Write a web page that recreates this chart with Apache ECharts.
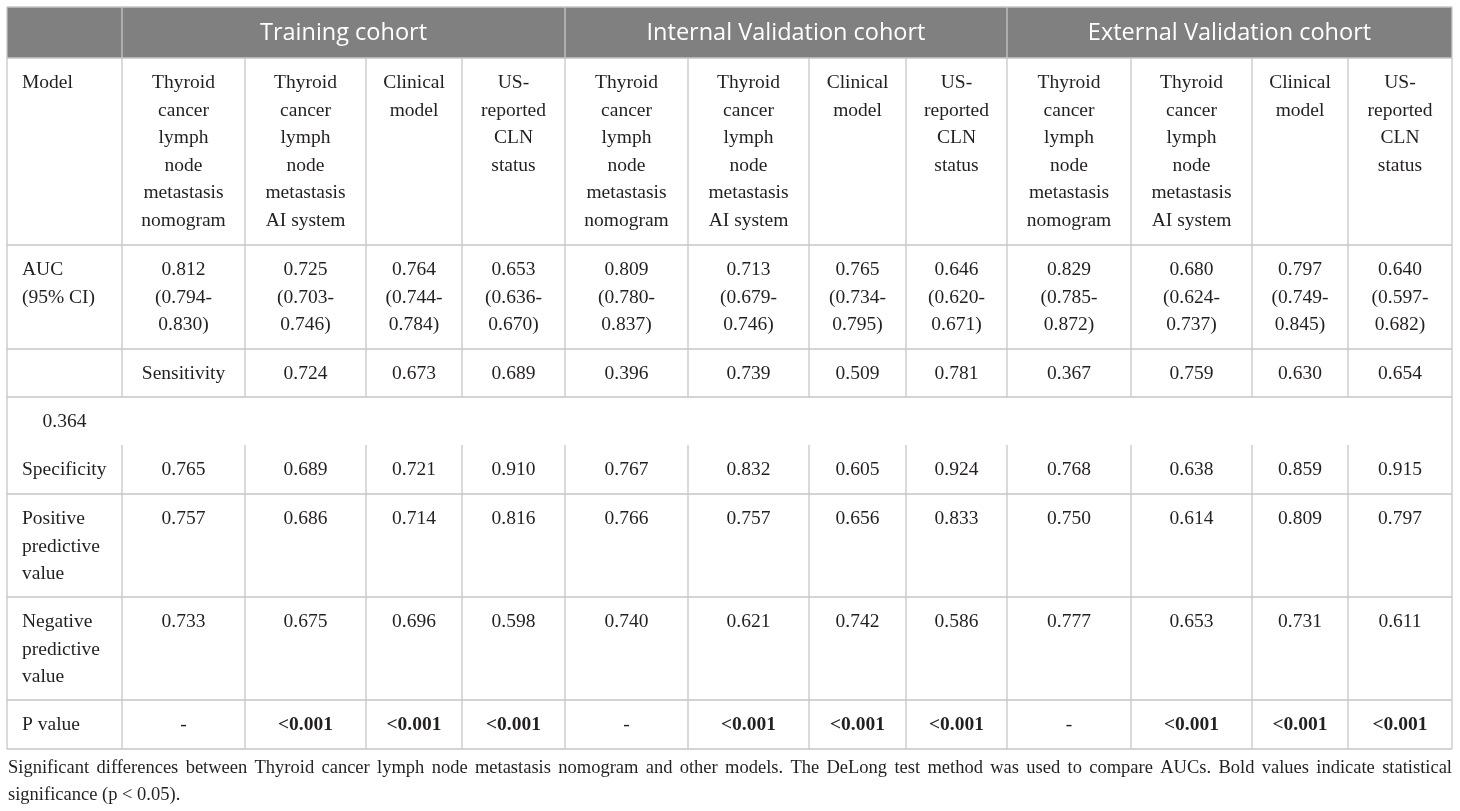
<!DOCTYPE html>
<html>
<head>
<meta charset="utf-8">
<script src="https://cdn.jsdelivr.net/npm/echarts@6/dist/echarts.min.js"></script>
<style>
  html, body { margin: 0; padding: 0; background: #fff; }
  #main { width: 1460px; height: 811px; }
</style>
</head>
<body>
<div id="main"></div>
<script>
// table content
var cohorts = ['Training cohort', 'Internal Validation cohort', 'External Validation cohort'];
var models = [
  'Thyroid\ncancer\nlymph\nnode\nmetastasis\nnomogram',
  'Thyroid\ncancer\nlymph\nnode\nmetastasis\nAI system',
  'Clinical\nmodel',
  'US-\nreported\nCLN\nstatus'
];
var rowLabels = ['Model', 'AUC\n(95% CI)', '', '0.364', 'Specificity',
  'Positive\npredictive\nvalue', 'Negative\npredictive\nvalue', 'P value'];
var auc = ['0.812', '0.725', '0.764', '0.653', '0.809', '0.713', '0.765', '0.646', '0.829', '0.680', '0.797', '0.640'];
var aucLow = ['0.794', '0.703', '0.744', '0.636', '0.780', '0.679', '0.734', '0.620', '0.785', '0.624', '0.749', '0.597'];
var aucHigh = ['0.830', '0.746', '0.784', '0.670', '0.837', '0.746', '0.795', '0.671', '0.872', '0.737', '0.845', '0.682'];
// sensitivity row is shifted one cell to the right in the source table
var sensitivity = ['0.724', '0.673', '0.689', '0.396', '0.739', '0.509', '0.781', '0.367', '0.759', '0.630', '0.654'];
var specificity = ['0.765', '0.689', '0.721', '0.910', '0.767', '0.832', '0.605', '0.924', '0.768', '0.638', '0.859', '0.915'];
var ppv = ['0.757', '0.686', '0.714', '0.816', '0.766', '0.757', '0.656', '0.833', '0.750', '0.614', '0.809', '0.797'];
var npv = ['0.733', '0.675', '0.696', '0.598', '0.740', '0.621', '0.742', '0.586', '0.777', '0.653', '0.731', '0.611'];
var pValues = ['-', '<0.001', '<0.001', '<0.001', '-', '<0.001', '<0.001', '<0.001', '-', '<0.001', '<0.001', '<0.001'];
var footLines = [
  'Significant differences between Thyroid cancer lymph node metastasis nomogram and other models. The DeLong test method was used to compare AUCs. Bold values indicate statistical',
  'significance (p < 0.05).'
];

// layout
var colX = [7, 122, 245, 366, 462, 565, 688, 809, 906, 1007, 1131, 1252, 1348, 1452];
var rowY = [7, 58, 245, 349, 397, 445, 494, 597, 700, 749];
var serif = '"Liberation Serif", "DejaVu Serif", serif';
var ink = '#231f20';
var gridColor = '#c6c6c6';
var cellSize = 19.5;
var lh = 27.5;

var els = [];

function line(x1, y1, x2, y2) {
  els.push({
    type: 'line', z: 10,
    shape: { x1: x1, y1: y1, x2: x2, y2: y2 },
    style: { stroke: gridColor, lineWidth: 1.3 }
  });
}

// text in a cell; col span c0..c1, row index r
function cell(c0, c1, r, txt, align, bold) {
  if (txt === '') return;
  var x = align === 'left' ? colX[c0] + 15 : (colX[c0] + colX[c1]) / 2;
  els.push({
    type: 'text', z: 20,
    x: x, y: rowY[r] + 25 - lh / 2,
    style: {
      text: txt, fill: ink, font: (bold ? 'bold ' : '') + cellSize + 'px ' + serif,
      lineHeight: lh, align: align === 'left' ? 'left' : 'center', verticalAlign: 'top'
    }
  });
}

// header band
els.push({
  type: 'rect', z: 1,
  shape: { x: colX[0], y: rowY[0], width: colX[13] - colX[0], height: rowY[1] - rowY[0] },
  style: { fill: '#808080' }
});
cohorts.forEach(function (name, k) {
  els.push({
    type: 'text', z: 20,
    x: (colX[1 + k * 4] + colX[5 + k * 4]) / 2, y: (rowY[0] + rowY[1]) / 2 + 1,
    style: { text: name, fill: '#fff', font: '23.5px "Open Sans", "Noto Sans", sans-serif', align: 'center', verticalAlign: 'middle' }
  });
});

// grid lines (the 0.364 row has no inner verticals)
[58, 245, 349, 397, 494, 597, 700, 749].forEach(function (y) { line(colX[0], y, colX[13], y); });
line(colX[0], rowY[0], colX[13], rowY[0]);
line(colX[0], rowY[0], colX[0], rowY[9]);
line(colX[13], rowY[0], colX[13], rowY[9]);
[1, 5, 9].forEach(function (c) { line(colX[c], rowY[0], colX[c], rowY[1]); });
for (var c = 1; c < 13; c++) {
  line(colX[c], rowY[1], colX[c], rowY[4]);
  line(colX[c], rowY[5], colX[c], rowY[9]);
}

// first column: one label per row 1..8
rowLabels.forEach(function (t, i) {
  cell(0, 1, i + 1, t, i === 3 ? 'center' : 'left');
});
for (var i = 0; i < 12; i++) {
  cell(i + 1, i + 2, 1, models[i % 4], 'center');
  cell(i + 1, i + 2, 2, auc[i] + '\n(' + aucLow[i] + '-\n' + aucHigh[i] + ')', 'center');
  cell(i + 1, i + 2, 5, specificity[i], 'center');
  cell(i + 1, i + 2, 6, ppv[i], 'center');
  cell(i + 1, i + 2, 7, npv[i], 'center');
  cell(i + 1, i + 2, 8, pValues[i], 'center', pValues[i] !== '-');
}
cell(1, 2, 3, 'Sensitivity', 'center');
sensitivity.forEach(function (v, j) { cell(j + 2, j + 3, 3, v, 'center'); });

// footnote, first line justified to table width
var footFont = '18.5px ' + serif;
var ctx = document.createElement('canvas').getContext('2d');
ctx.font = footFont;
footLines.forEach(function (txt, k) {
  var y = 768 + k * 27;
  if (k === footLines.length - 1) {
    els.push({ type: 'text', x: colX[0] + 1, y: y, style: { text: txt, fill: ink, font: footFont, verticalAlign: 'middle' } });
    return;
  }
  var words = txt.split(' ');
  var widths = words.map(function (w) { return ctx.measureText(w).width; });
  var total = widths.reduce(function (a, b) { return a + b; }, 0);
  var gap = (colX[13] - colX[0] - 1 - total) / (words.length - 1);
  var x = colX[0] + 1;
  words.forEach(function (w, j) {
    els.push({ type: 'text', x: x, y: y, style: { text: w, fill: ink, font: footFont, verticalAlign: 'middle' } });
    x += widths[j] + gap;
  });
});

var myChart = echarts.init(document.getElementById('main'));
myChart.setOption({
  backgroundColor: '#fff',
  animation: false,
  graphic: { elements: els }
});
</script>
</body>
</html>
